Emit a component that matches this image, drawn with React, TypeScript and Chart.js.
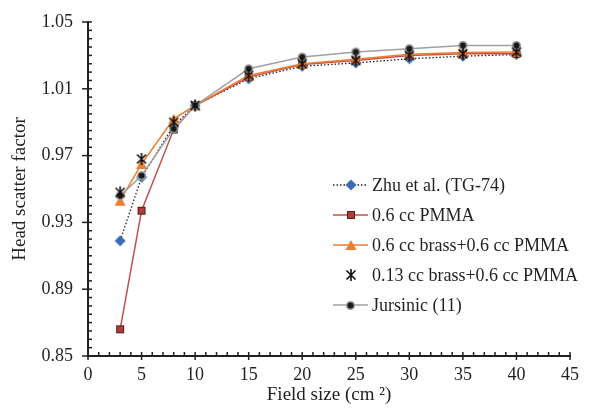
import React, { useEffect, useRef } from 'react';
import { Chart, registerables } from 'chart.js';

Chart.register(...registerables);

// ---- data ----
const fieldSizes = [3, 5, 8, 10, 15, 20, 25, 30, 35, 40];
const zhuTG74 = [0.919, 0.957, 0.988, 1.0, 1.016, 1.0235, 1.0255, 1.028, 1.0295, 1.0305];
const pmma06 = [0.866, 0.937, 0.9856, 1.0, 1.017, 1.0245, 1.027, 1.03, 1.031, 1.031];
const brass06 = [0.943, 0.965, 0.992, 1.0, 1.018, 1.025, 1.0277, 1.0307, 1.0318, 1.032];
const brass013 = [0.948, 0.968, 0.99, 1.0, 1.018, 1.025, 1.027, 1.03, 1.031, 1.032];
const jursinic = [0.946, 0.958, 0.986, 1.0, 1.022, 1.029, 1.032, 1.034, 1.036, 1.036];

const seriesLabels = [
  'Zhu et al. (TG-74)',
  '0.6 cc PMMA',
  '0.6 cc brass+0.6 cc PMMA',
  '0.13 cc brass+0.6 cc PMMA',
  'Jursinic (11)',
];
const xTicks = [0, 5, 10, 15, 20, 25, 30, 35, 40, 45];
const yTicks = [0.85, 0.89, 0.93, 0.97, 1.01, 1.05];
const xTitle = 'Field size (cm \u00B2)';
const yTitle = 'Head scatter factor';

const FONT = "'Liberation Serif', 'Times New Roman', serif";
const INK = '#231f20';

function mk(size: number, draw: (g: CanvasRenderingContext2D, s: number) => void) {
  const c = document.createElement('canvas');
  c.width = size;
  c.height = size;
  const g = c.getContext('2d') as CanvasRenderingContext2D;
  draw(g, size);
  return c;
}

function makeMarkers() {
  const diamond = mk(12, (g) => {
    g.fillStyle = '#3a6db3';
    g.beginPath();
    g.moveTo(6, 0.5);
    g.lineTo(11.5, 6);
    g.lineTo(6, 11.5);
    g.lineTo(0.5, 6);
    g.closePath();
    g.fill();
  });
  const square = mk(10, (g) => {
    g.fillStyle = '#b23b36';
    g.fillRect(1, 1, 8, 8);
    g.strokeStyle = '#4a2222';
    g.lineWidth = 1;
    g.strokeRect(1.5, 1.5, 7, 7);
  });
  const triangle = mk(12, (g) => {
    g.fillStyle = '#ed7d31';
    g.beginPath();
    g.moveTo(6, 1);
    g.lineTo(11.5, 11);
    g.lineTo(0.5, 11);
    g.closePath();
    g.fill();
  });
  const asterisk = mk(14, (g) => {
    g.strokeStyle = '#111';
    g.lineWidth = 1.6;
    g.beginPath();
    g.moveTo(2.5, 2.5);
    g.lineTo(11.5, 11.5);
    g.moveTo(11.5, 2.5);
    g.lineTo(2.5, 11.5);
    g.moveTo(7, 1);
    g.lineTo(7, 13);
    g.stroke();
  });
  const circle = mk(11, (g) => {
    g.beginPath();
    g.arc(5.5, 5.5, 3.8, 0, Math.PI * 2);
    g.fillStyle = '#1a1a1a';
    g.fill();
    g.strokeStyle = '#9b9b9b';
    g.lineWidth = 1.5;
    g.stroke();
  });
  return { diamond, square, triangle, asterisk, circle };
}

const axisTicksPlugin = {
  id: 'axisTicks',
  afterDraw(chart: any) {
    const { ctx, scales, chartArea } = chart;
    const x = scales.x;
    const y = scales.y;
    ctx.save();
    ctx.strokeStyle = INK;
    ctx.lineWidth = 1.5;
    for (let i = 0; i <= 45; i++) {
      const px = x.getPixelForValue(i);
      const major = i % 5 === 0;
      ctx.beginPath();
      ctx.moveTo(px, chartArea.bottom - 4);
      ctx.lineTo(px, chartArea.bottom + (major ? 4 : 0));
      ctx.stroke();
    }
    for (let i = 0; i <= 40; i++) {
      const py = y.getPixelForValue(0.85 + i * 0.005);
      const major = i % 8 === 0;
      ctx.beginPath();
      ctx.moveTo(chartArea.left + 4, py);
      ctx.lineTo(chartArea.left - (major ? 6 : 0), py);
      ctx.stroke();
    }
    ctx.restore();
  },
};

const legendPlugin = {
  id: 'customLegend',
  afterDraw(chart: any) {
    const { ctx } = chart;
    const x0 = 333;
    const x1 = 368;
    const tx = 372;
    const top = 185;
    const step = 30;
    ctx.save();
    chart.data.datasets.forEach((ds: any, i: number) => {
      const yy = top + i * step;
      if (ds.showLine !== false) {
        ctx.beginPath();
        ctx.strokeStyle = ds.borderColor;
        ctx.lineWidth = ds.borderWidth;
        ctx.setLineDash(ds.borderDash || []);
        ctx.moveTo(x0, yy);
        ctx.lineTo(x1, yy);
        ctx.stroke();
        ctx.setLineDash([]);
      }
      const img = ds.pointStyle as HTMLCanvasElement;
      const mx = (x0 + x1) / 2;
      ctx.drawImage(img, Math.round(mx - img.width / 2), Math.round(yy - img.height / 2));
      ctx.fillStyle = INK;
      ctx.font = `18px ${FONT}`;
      ctx.textBaseline = 'middle';
      ctx.textAlign = 'left';
      ctx.fillText(ds.label, tx, yy + 1);
    });
    ctx.restore();
  },
};

export default function App() {
  const ref = useRef<HTMLCanvasElement | null>(null);

  useEffect(() => {
    if (!ref.current) return;
    const m = makeMarkers();
    const pts = (vals: number[]) => fieldSizes.map((x, i) => ({ x, y: vals[i] }));
    const chart = new Chart(ref.current, {
      type: 'line',
      data: {
        datasets: [
          {
            label: seriesLabels[0],
            data: pts(zhuTG74),
            borderColor: '#222',
            borderWidth: 1.3,
            borderDash: [1.5, 2],
            pointStyle: m.diamond,
            pointRadius: 5,
            order: 4,
          },
          {
            label: seriesLabels[1],
            data: pts(pmma06),
            borderColor: '#c0504d',
            borderWidth: 1.5,
            pointStyle: m.square,
            pointRadius: 5,
            order: 3,
          },
          {
            label: seriesLabels[2],
            data: pts(brass06),
            borderColor: '#ed7d31',
            borderWidth: 1.5,
            pointStyle: m.triangle,
            pointRadius: 5,
            order: 2,
          },
          {
            label: seriesLabels[3],
            data: pts(brass013),
            borderColor: '#111',
            borderWidth: 0,
            showLine: false,
            pointStyle: m.asterisk,
            pointRadius: 5,
            order: 0,
          },
          {
            label: seriesLabels[4],
            data: pts(jursinic),
            borderColor: '#a0a0a0',
            borderWidth: 1.5,
            pointStyle: m.circle,
            pointRadius: 5,
            order: 1,
          },
        ] as any,
      },
      options: {
        animation: false,
        responsive: true,
        maintainAspectRatio: false,
        layout: { padding: { top: 22, right: 43, left: 0, bottom: 0 } },
        plugins: { legend: { display: false }, tooltip: { enabled: false } },
        scales: {
          x: {
            type: 'linear',
            min: 0,
            max: 45,
            afterBuildTicks: (s: any) => {
              s.ticks = xTicks.map((v) => ({ value: v }));
            },
            afterFit: (s: any) => {
              s.height = 54;
            },
            grid: { display: false },
            border: { display: true, color: INK, width: 2 },
            ticks: {
              font: { family: FONT, size: 18 },
              color: INK,
              padding: 0,
              maxRotation: 0,
              autoSkip: false,
            },
            title: {
              display: true,
              text: xTitle,
              font: { family: FONT, size: 19 },
              color: INK,
              padding: { top: 0, bottom: 4 },
            },
          },
          y: {
            min: 0.85,
            max: 1.05,
            afterBuildTicks: (s: any) => {
              s.ticks = yTicks.map((v) => ({ value: v }));
            },
            afterFit: (s: any) => {
              s.width = 88;
            },
            grid: { display: false },
            border: { display: true, color: INK, width: 2 },
            ticks: {
              font: { family: FONT, size: 18 },
              color: INK,
              padding: 7,
              callback: (v: any) => Number(v).toFixed(2),
            },
            title: {
              display: true,
              text: yTitle,
              font: { family: FONT, size: 19 },
              color: INK,
              padding: { top: 9, bottom: 0 },
            },
          },
        },
      },
      plugins: [axisTicksPlugin, legendPlugin],
    } as any);
    return () => chart.destroy();
  }, []);

  return (
    <div style={{ position: 'fixed', left: 0, top: 0, width: 613, height: 410, background: '#fff' }}>
      <canvas ref={ref} />
    </div>
  );
}
